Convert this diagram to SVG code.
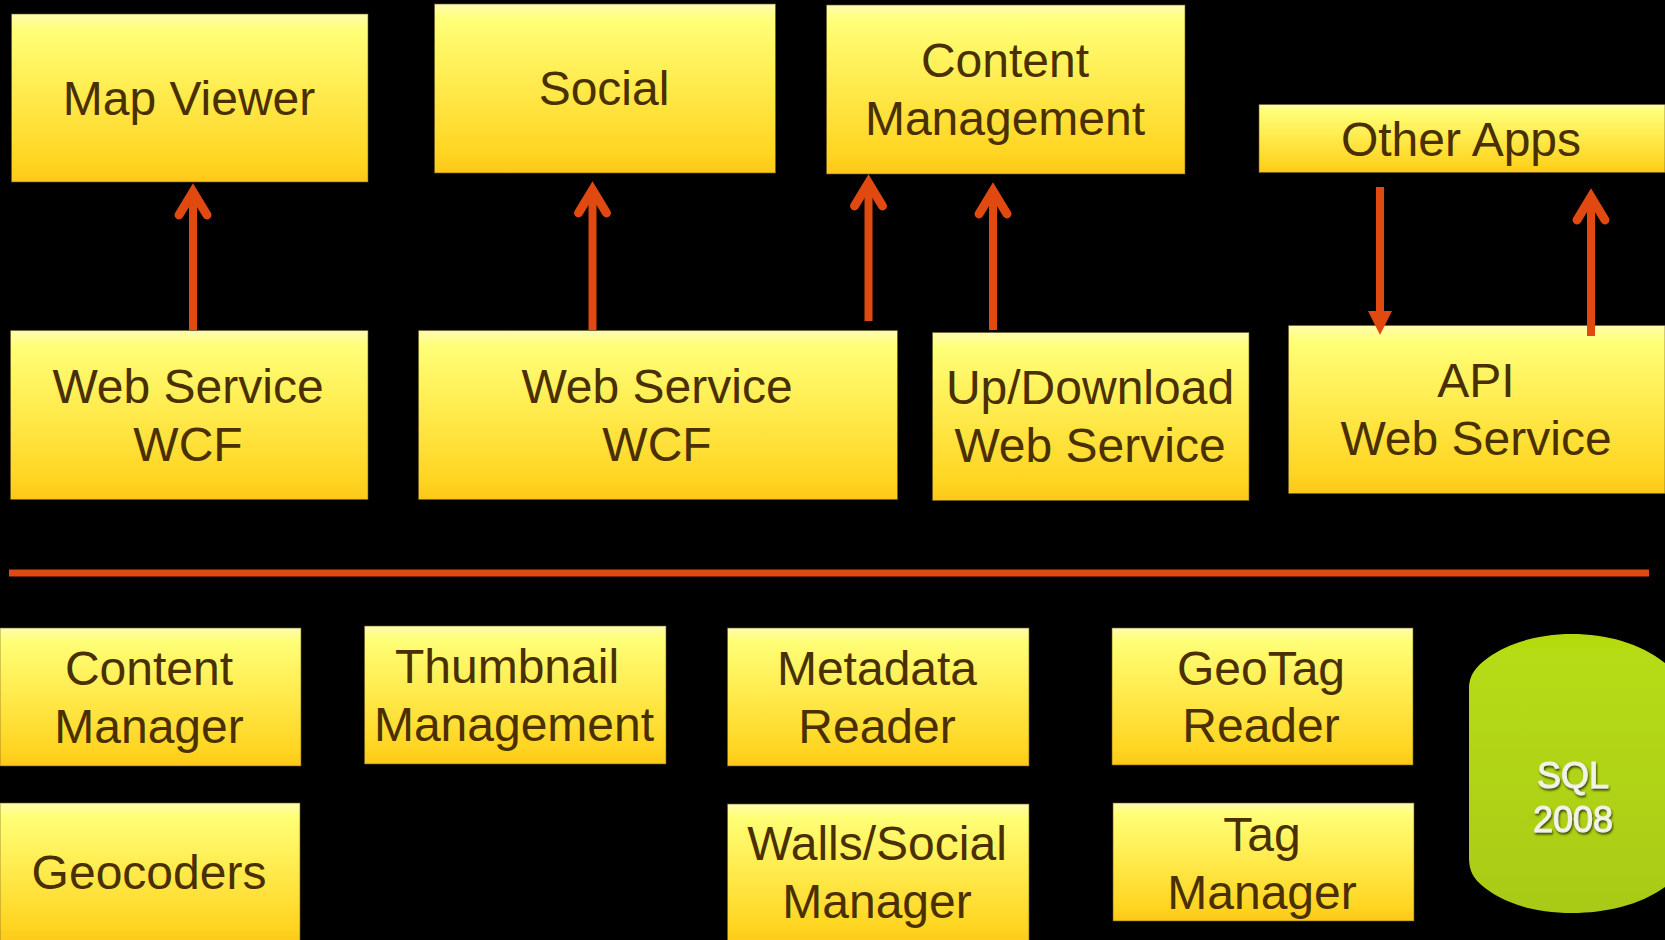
<svg xmlns="http://www.w3.org/2000/svg" width="1665" height="940" viewBox="0 0 1665 940">
<style>
.box{fill:url(#gold);stroke:#6b5a20;stroke-width:1;stroke-opacity:.6;filter:url(#soft)}
.lbl{font-family:"Liberation Sans",Arial,sans-serif;font-size:48px;fill:#4a3000;text-anchor:middle}
.db{font-family:"Liberation Sans",Arial,sans-serif;font-size:36px;fill:#f2f2e6;text-anchor:middle;stroke:#f2f2e6;stroke-width:1;filter:url(#dbs)}
.conn{stroke:#e04a10;stroke-width:8;fill:none}
</style>
<defs>
<linearGradient id="gold" x1="0" y1="0" x2="0" y2="1">
<stop offset="0" stop-color="#fffbb0"/><stop offset=".09" stop-color="#ffff78"/><stop offset=".45" stop-color="#ffec50"/><stop offset=".88" stop-color="#ffd522"/><stop offset="1" stop-color="#fcc818"/>
</linearGradient>
<linearGradient id="lime" x1="0" y1="0" x2="0" y2="1">
<stop offset="0" stop-color="#b4d80e"/><stop offset=".06" stop-color="#b6dc12"/><stop offset=".5" stop-color="#b0d416"/><stop offset="1" stop-color="#a9ca16"/>
</linearGradient>
<filter id="soft" x="-5%" y="-5%" width="110%" height="110%"><feGaussianBlur stdDeviation=".7"/></filter>
<filter id="dbs" x="-20%" y="-20%" width="140%" height="140%"><feGaussianBlur stdDeviation=".6"/><feDropShadow dx="1" dy="2" stdDeviation="1" flood-color="#3a4a00"/></filter>
<marker id="open" markerUnits="userSpaceOnUse" markerWidth="50" markerHeight="50" refX="40" refY="25" orient="auto">
<path d="M17,11 L40,25 L17,39" fill="none" stroke="#e04a10" stroke-width="9" stroke-linecap="round" stroke-linejoin="miter"/>
</marker>
<marker id="solid" markerUnits="userSpaceOnUse" markerWidth="30" markerHeight="30" refX="1" refY="15" orient="auto">
<path d="M0,3 L24,15 L0,27 Z" fill="#e04a10"/>
</marker>
</defs>
<rect width="1665" height="940" fill="#000"/>
<g id="map-viewer"><rect class="box" x="11.500" y="14" width="356.500" height="168"/><text class="lbl" x="189" y="115">Map Viewer</text></g>
<g id="social"><rect class="box" x="434.500" y="4" width="341" height="169"/><text class="lbl" x="604" y="105">Social</text></g>
<g id="content-management"><rect class="box" x="826.500" y="5" width="358.500" height="169"/><text class="lbl" x="1005" y="77">Content</text><text class="lbl" x="1005" y="135">Management</text></g>
<g id="other-apps"><rect class="box" x="1259" y="104.500" width="406" height="68"/><text class="lbl" x="1461" y="156">Other Apps</text></g>
<g id="wcf-1"><rect class="box" x="10.500" y="330.500" width="357.500" height="169"/><text class="lbl" x="188" y="403">Web Service</text><text class="lbl" x="188" y="461">WCF</text></g>
<g id="wcf-2"><rect class="box" x="418.500" y="330.500" width="479" height="169"/><text class="lbl" x="657" y="403">Web Service</text><text class="lbl" x="657" y="461">WCF</text></g>
<g id="updownload"><rect class="box" x="932.500" y="332.500" width="316.500" height="168"/><text class="lbl" x="1090" y="404">Up/Download</text><text class="lbl" x="1090" y="462">Web Service</text></g>
<g id="api"><rect class="box" x="1288.500" y="325.500" width="376.500" height="168"/><text class="lbl" x="1476" y="397">API</text><text class="lbl" x="1476" y="455">Web Service</text></g>
<g id="content-manager"><rect class="box" x="0" y="628" width="301" height="138"/><text class="lbl" x="149" y="685">Content</text><text class="lbl" x="149" y="743">Manager</text></g>
<g id="thumbnail"><rect class="box" x="364.500" y="626" width="301.500" height="138"/><text class="lbl" x="507" y="683">Thumbnail</text><text class="lbl" x="514" y="741">Management</text></g>
<g id="metadata"><rect class="box" x="727.500" y="628" width="301.500" height="138"/><text class="lbl" x="877" y="685">Metadata</text><text class="lbl" x="877" y="743">Reader</text></g>
<g id="geotag"><rect class="box" x="1112" y="628" width="301" height="137"/><text class="lbl" x="1261" y="685">GeoTag</text><text class="lbl" x="1261" y="742">Reader</text></g>
<g id="geocoders"><rect class="box" x="0" y="803" width="300" height="140"/><text class="lbl" x="149" y="889">Geocoders</text></g>
<g id="walls"><rect class="box" x="727.500" y="804" width="301.500" height="140"/><text class="lbl" x="877" y="860">Walls/Social</text><text class="lbl" x="877" y="918">Manager</text></g>
<g id="tag-manager"><rect class="box" x="1113" y="803" width="301" height="118"/><text class="lbl" x="1262" y="851">Tag</text><text class="lbl" x="1262" y="909">Manager</text></g>
<g id="sql"><path d="M1469,690 C1469,674 1476,666 1492,655 C1514,641 1542,634 1572,634 C1606,634 1640,643 1665,663 L1665,887 C1640,905 1606,913 1572,913 C1536,913 1506,904 1485,888 C1473,879 1469,870 1469,858 Z" fill="url(#lime)" filter="url(#soft)"/><text class="db" x="1573" y="788">SQL</text><text class="db" x="1573" y="832">2008</text></g>
<g id="connectors">
<path class="conn" d="M193,330 V192" marker-end="url(#open)"/>
<path class="conn" d="M592.500,330 V190" marker-end="url(#open)"/>
<path class="conn" d="M868.500,321 V183" marker-end="url(#open)"/>
<path class="conn" d="M993,330 V191" marker-end="url(#open)"/>
<path class="conn" d="M1380,187 V312" marker-end="url(#solid)"/>
<path class="conn" d="M1591,336 V197" marker-end="url(#open)"/>
<path d="M9,573 H1649" stroke="#e04a10" stroke-width="7" fill="none"/>
</g>
</svg>
